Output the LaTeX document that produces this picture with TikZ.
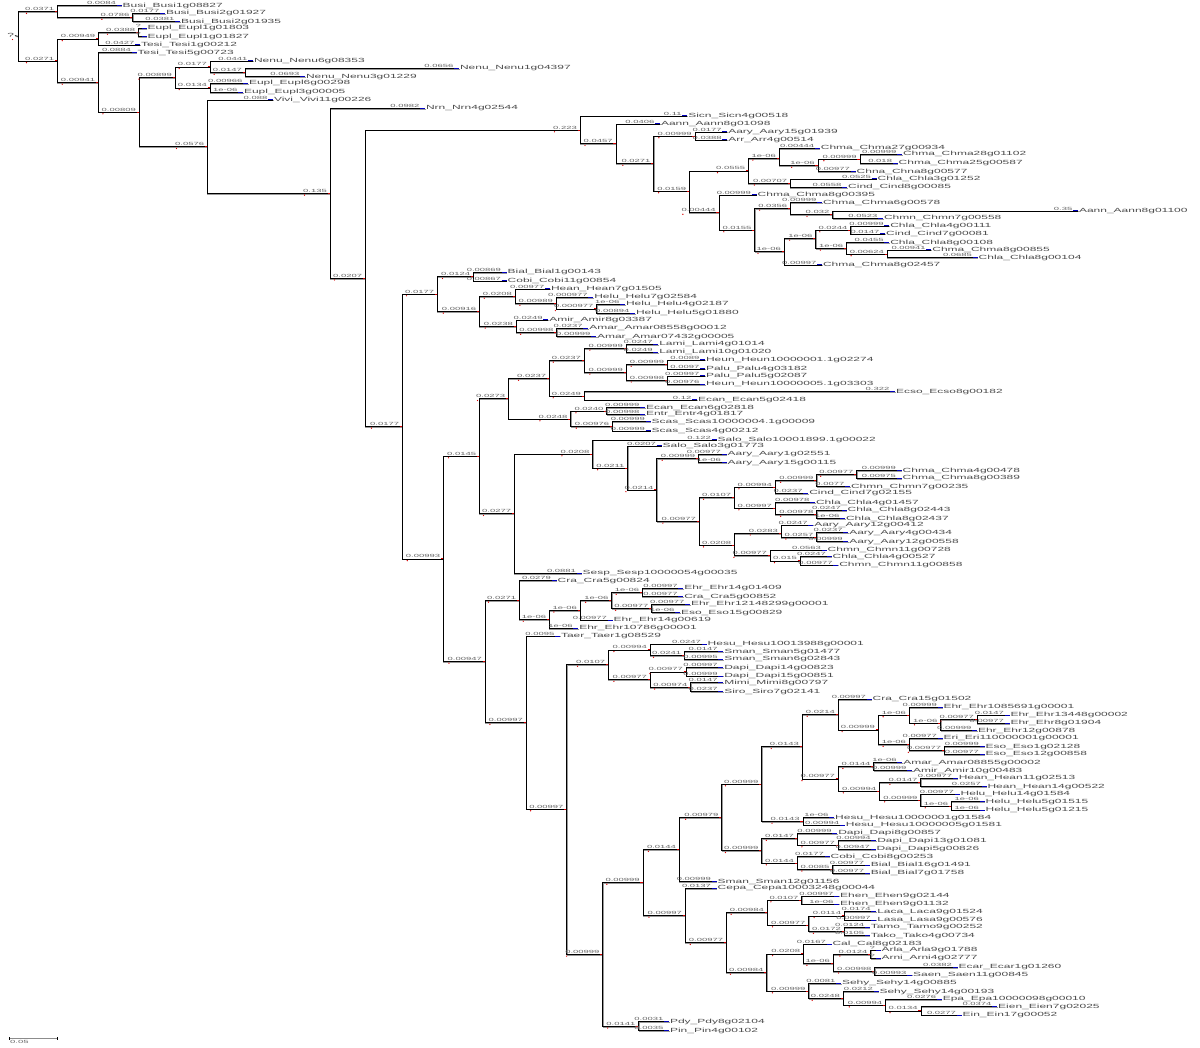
\documentclass[tikz,border=0pt]{standalone}
\usepackage{fontspec}
\newfontfamily\leaffont[FakeStretch=2]{Liberation Sans}
\newfontfamily\labfont[FakeStretch=2.1]{Liberation Sans}
\tikzset{
  br/.style={line width=0.55pt, draw=black, preaction={draw=black!40, line width=0.9pt, transform canvas={shift={(0.5pt,-0.8pt)}}}},
  leaf/.style={anchor=west, inner xsep=0.8pt, inner ysep=0pt, font={\leaffont\fontsize{6}{6}\selectfont}, text=black!70},
  blab/.style={anchor=south east, inner sep=0pt, font={\labfont\fontsize{4.5}{4.5}\selectfont}, text=black!60},
  tipc/.style={draw=blue!75!black, line width=1pt},
  rmark/.style={draw=red!85!black, line width=0.8pt}
}
\newcommand\IN[5]{%
  \coordinate (#2) at (#3,#4);
  \draw[br] (#1) |- (#2);
  \node[blab, xshift=-3pt, yshift=0.6pt] (#2-l) at (#2) {#5};
  \fill[red!85!black] ([shift={(1.5pt,-2.4pt)}]#2-l.south west) circle (0.7pt);
  \draw[rmark] ([xshift=-2.5pt]#2) -- (#2);
}
\newcommand\LF[6]{%
  \node[leaf] (#2) at (#3,#4) {#6};
  \draw[br] (#1) |- (#2.west);
  \draw[tipc] ([xshift=-5pt]#2.west) -- (#2.west);
  \node[blab, xshift=-5.5pt, yshift=0.6pt] at (#2.west) {#5};
}
\begin{document}
\begin{tikzpicture}[x=1pt, y=-1pt]
\fill[white] (0,0) rectangle (1200,1048);
\useasboundingbox (0,0) rectangle (1200,1048);
% root
\coordinate (root) at (18.3,36.3);
\node[leaf, anchor=east] (rootlab) at (15,35.5) {?};
\draw[br] (rootlab.east) -- (root);
\fill[red!85!black] (12.5,39.5) circle (0.7pt);
\IN{root}{n1}{57.3}{11.6}{0.0371}
 \LF{n1}{L1}{121.7}{5.7}{0.0084}{Busi\_Busi1g08827}
 \IN{n1}{n2}{132.7}{17.5}{0.0786}
  \LF{n2}{L2}{165}{13.3}{0.0177}{Busi\_Busi2g01927}
  \LF{n2}{L3}{180}{21.7}{0.0381}{Busi\_Busi2g01935}
\IN{root}{n3}{57.3}{60.9}{0.0271}
 \IN{n3}{n4}{98.3}{38.8}{0.00949}
  \IN{n4}{n5}{138.3}{32.5}{0.0388}
   \LF{n5}{L4}{146.7}{28.3}{?}{Eupl\_Eupl1g01803}
   \LF{n5}{L5}{146.7}{36.7}{?}{Eupl\_Eupl1g01827}
  \LF{n4}{L6}{140}{45}{0.0427}{Tesi\_Tesi1g00212}
 \IN{n3}{n6}{98.3}{82.4}{0.00941}
  \LF{n6}{L7}{136.7}{52.7}{0.0884}{Tesi\_Tesi5g00723}
  \IN{n6}{n7}{139}{112}{0.00809}
   \IN{n7}{n8}{175}{77.3}{0.00899}
    \IN{n8}{n9}{210}{66.8}{0.0177}
     \LF{n9}{L8}{253}{61}{0.0441}{Nenu\_Nenu6g08353}
     \IN{n9}{n10}{245}{72.5}{0.0147}
      \LF{n10}{L9}{459}{68.3}{0.0656}{Nenu\_Nenu1g04397}
      \LF{n10}{L10}{305}{76.7}{0.0693}{Nenu\_Nenu3g01229}
    \IN{n8}{n11}{210}{87.8}{0.0134}
     \LF{n11}{L11}{248}{83.3}{0.00966}{Eupl\_Eupl6g00298}
     \LF{n11}{L12}{243}{92.3}{1e-06}{Eupl\_Eupl3g00005}
   \IN{n7}{n12}{207.3}{146.7}{0.0576}
    \LF{n12}{L13}{273}{100}{0.088}{Vivi\_Vivi11g00226}
    \IN{n12}{n13}{330}{193.3}{0.135}
     \LF{n13}{L14}{425}{108.3}{0.0982}{Nrn\_Nrn4g02544}
     \IN{n13}{n14}{365.3}{278.2}{0.0207}
      \IN{n14}{A}{580}{130}{0.223}
       \LF{A}{L15}{687.3}{116}{0.11}{Sicn\_Sicn4g00518}
       \IN{A}{B}{615.8}{143.7}{0.0457}
        \LF{B}{L16}{660}{124}{0.0406}{Aann\_Aann8g01098}
        \IN{B}{C}{653.6}{163.5}{0.0271}
         \IN{C}{D1}{694.9}{136}{0.00999}
          \LF{D1}{L17}{727.3}{132}{0.0177}{Aary\_Aary15g01939}
          \LF{D1}{L18}{727.3}{140}{0.0388}{Arr\_Arr4g00514}
         \IN{C}{D}{689.4}{191}{0.0159}
          \IN{D}{E}{748.3}{170.8}{0.0555}
           \IN{E}{F}{779}{158.3}{1e-06}
            \LF{F}{L19}{819.9}{148.3}{0.00444}{Chma\_Chma27g00934}
            \IN{F}{G}{817.8}{165.5}{1e-06}
             \IN{G}{H}{859.9}{159}{0.00999}
              \LF{H}{L20}{902}{154.3}{0.00999}{Chma\_Chma28g01102}
              \LF{H}{L21}{897.7}{163.3}{0.018}{Chma\_Chma25g00587}
             \LF{G}{L22}{855.7}{171.7}{0.00977}{Chna\_Chna8g00577}
           \IN{E}{I}{790.4}{183.2}{0.00707}
            \LF{I}{L23}{876.7}{179}{0.0525}{Chla\_Chla3g01252}
            \LF{I}{L24}{847.2}{187.3}{0.0558}{Cind\_Cind8g00085}
          \IN{D}{J}{718.9}{212.5}{0.00444}
           \LF{J}{L25}{756.7}{195}{0.00999}{Chma\_Chma8g00395}
           \IN{J}{K}{754.6}{230}{0.0155}
            \IN{K}{L}{790.4}{208.3}{0.0356}
             \LF{L}{L26}{822}{202.7}{0.00999}{Chma\_Chma6g00578}
             \IN{L}{M}{832.5}{214.7}{0.032}
              \LF{M}{L27}{1078}{211}{0.35}{Aann\_Aann8g01100}
              \LF{M}{L28}{883}{218.3}{0.0523}{Chmn\_Chmn7g00558}
            \IN{K}{N}{784.1}{251.7}{1e-06}
             \IN{N}{O}{815.7}{238.3}{1e-06}
              \IN{O}{P}{850.6}{230}{0.0244}
               \LF{P}{L29}{889.3}{226}{0.00999}{Chla\_Chla4g00111}
               \LF{P}{L30}{885.1}{234}{0.0147}{Cind\_Cind7g00081}
              \IN{O}{Q}{846.4}{248.3}{1e-06}
               \LF{Q}{L31}{889.3}{242.7}{0.0455}{Chla\_Chla8g00108}
               \IN{Q}{R}{887.2}{254}{0.00624}
                \LF{R}{L32}{931.4}{250}{0.00941}{Chma\_Chma8g00855}
                \LF{R}{L33}{977.7}{257.7}{0.0685}{Chla\_Chla8g00104}
             \LF{N}{L34}{822}{265}{0.00997}{Chma\_Chma8g02457}
      \IN{n14}{n15}{402.3}{426.4}{0.0177}
       \IN{n15}{n16}{437.3}{294}{0.0177}
        \IN{n16}{n17}{473.3}{276.7}{0.0124}
         \LF{n17}{L35}{506.7}{272.3}{0.00869}{Bial\_Bial1g00143}
         \LF{n17}{L36}{506.7}{281}{0.00867}{Cobi\_Cobi11g00854}
        \IN{n16}{n18}{479.3}{311.3}{0.00916}
         \IN{n18}{n19}{515}{296.4}{0.0208}
          \LF{n19}{L37}{550}{289}{0.00977}{Hean\_Hean7g01505}
          \IN{n19}{n20}{556}{303.5}{0.00989}
           \LF{n20}{L38}{593.3}{297.3}{0.000977}{Helu\_Helu7g02584}
           \IN{n20}{n21}{596.7}{308.8}{0.000977}
            \LF{n21}{L39}{625}{304.3}{1e-06}{Helu\_Helu4g02187}
            \LF{n21}{L40}{635}{313.3}{0.00894}{Helu\_Helu5g01880}
         \IN{n18}{n22}{516}{326.3}{0.0238}
          \LF{n22}{L41}{548.3}{320}{0.0249}{Amir\_Amir8g03387}
          \IN{n22}{n23}{556.7}{332.5}{0.00998}
           \LF{n23}{L42}{588.3}{328.3}{0.0237}{Amar\_Amar08558g00012}
           \LF{n23}{L43}{596}{336.7}{0.00999}{Amar\_Amar07432g00005}
       \IN{n15}{n30}{443.3}{558.8}{0.00993}
        \IN{n30}{n31}{479.3}{456}{0.0145}
         \IN{n31}{n32}{508.3}{398.7}{0.0273}
          \IN{n32}{n33}{549.3}{378.5}{0.0237}
           \IN{n33}{n34}{584}{360.3}{0.0237}
            \IN{n34}{n35}{626}{348.3}{0.00999}
             \LF{n35}{L44}{658.3}{344.3}{0.0247}{Lami\_Lami4g01014}
             \LF{n35}{L45}{658.3}{352.3}{0.0249}{Lami\_Lami10g01020}
            \IN{n34}{n36}{626}{372.3}{0.00999}
             \IN{n36}{n37}{667.3}{364.5}{0.00999}
              \LF{n37}{L46}{705}{360}{0.0089}{Heun\_Heun10000001.1g02274}
              \LF{n37}{L47}{705}{369}{0.0097}{Palu\_Palu4g03182}
             \IN{n36}{n38}{667.3}{380.2}{0.00998}
              \LF{n38}{L48}{705}{376}{0.00997}{Palu\_Palu5g02087}
              \LF{n38}{L49}{705}{384.3}{0.00976}{Heun\_Heun10000005.1g03303}
           \IN{n33}{n39}{584}{396}{0.0249}
            \LF{n39}{L50}{895}{391.7}{0.322}{Ecso\_Ecso8g00182}
            \LF{n39}{L51}{697}{400}{0.12}{Ecan\_Ecan5g02418}
          \IN{n32}{n40}{570.7}{419}{0.0248}
           \IN{n40}{n41}{606.7}{411}{0.0240}
            \LF{n41}{L52}{645}{407.7}{0.00999}{Ecan\_Ecan6g02818}
            \LF{n41}{L53}{645}{414.3}{0.00998}{Entr\_Entr4g01817}
           \IN{n40}{n42}{612.3}{426.3}{0.00976}
            \LF{n42}{L54}{650.7}{421.7}{0.00999}{Scas\_Scas10000004.1g00009}
            \LF{n42}{L55}{650.7}{431}{0.00999}{Scas\_Scas4g00212}
         \IN{n31}{n43}{514.3}{513.7}{0.0277}
          \IN{n43}{n44}{592.7}{454}{0.0208}
           \LF{n44}{L56}{716.7}{440}{0.122}{Salo\_Salo10001899.1g00022}
           \IN{n44}{n45}{627.7}{468}{0.0211}
            \LF{n45}{L57}{661.7}{446}{0.0207}{Salo\_Salo3g01773}
            \IN{n45}{n46}{656.7}{489.9}{0.0214}
             \IN{n46}{n47}{698.3}{458.5}{0.00999}
              \LF{n47}{L58}{726.7}{454.3}{0.00977}{Aary\_Aary1g02551}
              \LF{n47}{L59}{726.7}{462.7}{1e-06}{Aary\_Aary15g00115}
             \IN{n46}{n48}{699}{521.3}{0.00977}
              \IN{n48}{n49}{734.3}{497.5}{0.0107}
               \IN{n49}{n50}{775}{487}{0.00994}
                \IN{n50}{n51}{816.7}{480.5}{0.00999}
                 \IN{n51}{n52}{856.7}{474.5}{0.00977}
                  \LF{n52}{L60}{901.7}{470.7}{0.00999}{Chma\_Chma4g00478}
                  \LF{n52}{L61}{901.7}{478.3}{0.00975}{Chma\_Chma8g00389}
                 \LF{n51}{L62}{850}{486.7}{0.0077}{Chmn\_Chmn7g00235}
                \LF{n50}{L63}{808.3}{493.3}{0.0237}{Cind\_Cind7g02155}
               \IN{n49}{n53}{775}{508}{0.00997}
                \LF{n53}{L64}{815}{502.7}{0.00978}{Chla\_Chla4g01457}
                \IN{n53}{n54}{816.7}{514.5}{0.00978}
                 \LF{n54}{L65}{846.7}{510.3}{0.0247}{Chla\_Chla8g02443}
                 \LF{n54}{L66}{845}{518.7}{1e-06}{Chla\_Chla8g02437}
              \IN{n48}{n55}{734.3}{545.1}{0.0208}
               \IN{n55}{n56}{781}{533.2}{0.0283}
                \LF{n56}{L67}{813.3}{525}{0.0247}{Aary\_Aary12g00412}
                \IN{n56}{n57}{816.7}{537.2}{0.0257}
                 \LF{n57}{L68}{848.3}{532.7}{0.0237}{Aary\_Aary4g00434}
                 \LF{n57}{L69}{848.3}{541.7}{0.00999}{Aary\_Aary12g00558}
               \IN{n55}{n58}{770}{555.5}{0.00977}
                \LF{n58}{L70}{826.7}{550}{0.0563}{Chmn\_Chmn11g00728}
                \IN{n58}{n59}{800}{560.8}{0.015}
                 \LF{n59}{L71}{831.7}{556.7}{0.0247}{Chla\_Chla4g00527}
                 \LF{n59}{L72}{838.3}{565}{0.00977}{Chmn\_Chmn11g00858}
          \LF{n43}{L73}{581.7}{573.3}{0.0881}{Sesp\_Sesp10000054g00035}
        \IN{n30}{n60}{485}{661.4}{0.00947}
         \IN{n60}{n61}{519.3}{600.3}{0.0271}
          \LF{n61}{L74}{556.7}{580.7}{0.0279}{Cra\_Cra5g00824}
          \IN{n61}{n62}{549.3}{619.4}{1e-06}
           \IN{n62}{n63}{580}{610.2}{1e-06}
            \IN{n63}{n64}{611.7}{600.5}{1e-06}
             \IN{n64}{n65a}{642.3}{592.5}{1e-06}
              \LF{n65a}{L75}{683.3}{588.3}{0.00997}{Ehr\_Ehr14g01409}
              \LF{n65a}{L76}{683.3}{596.7}{0.00977}{Cra\_Cra5g00852}
             \IN{n64}{n66}{651.7}{608.5}{0.00977}
              \LF{n66}{L77}{690}{604.3}{0.00977}{Ehr\_Ehr12148299g00001}
              \LF{n66}{L78}{680}{612.7}{1e-06}{Eso\_Eso15g00829}
            \LF{n63}{L79}{612.7}{620}{0.00977}{Ehr\_Ehr14g00619}
           \LF{n62}{L80}{578.3}{628.3}{1e-06}{Ehr\_Ehr10786g00001}
         \IN{n60}{n70}{526}{722.5}{0.00997}
          \LF{n70}{L81}{560}{636}{0.0095}{Taer\_Taer1g08529}
          \IN{n70}{n71}{566.7}{809}{0.00997}
           \IN{n71}{n72}{608.3}{664.5}{0.0107}
            \IN{n72}{n73}{650}{649.8}{0.00994}
             \LF{n73}{L82}{706.7}{644}{0.0247}{Hesu\_Hesu10013988g00001}
             \IN{n73}{n74}{684.3}{655.5}{0.0241}
              \LF{n74}{L83}{723.3}{651.7}{0.0147}{Sman\_Sman5g01477}
              \LF{n74}{L84}{723.3}{659.3}{0.00995}{Sman\_Sman6g02843}
            \IN{n72}{n75}{650}{679.5}{0.00977}
             \IN{n75}{n76}{686}{671.8}{0.00977}
              \LF{n76}{L85}{723.3}{667.7}{0.00997}{Dapi\_Dapi14g00823}
              \LF{n76}{L86}{723.3}{676}{0.00999}{Dapi\_Dapi15g00851}
             \IN{n75}{n77}{690.7}{687.2}{0.00974}
              \LF{n77}{L87}{723.3}{682.7}{0.0147}{Mimi\_Mimi8g00797}
              \LF{n77}{L88}{723.3}{691.7}{0.0237}{Siro\_Siro7g02141}
           \IN{n71}{n78}{602.7}{954.3}{0.00999}
            \IN{n78}{n79}{642.9}{882.5}{0.00999}
             \IN{n79}{n80}{679.2}{849.5}{0.0144}
              \IN{n80}{n81}{721.7}{817.4}{0.00979}
               \IN{n81}{n82}{761.5}{784}{0.00999}
                \IN{n82}{n83}{802}{746.7}{0.0143}
                 \IN{n83}{n84}{838}{714.5}{0.0214}
                  \LF{n84}{L89}{871.7}{699.3}{0.00997}{Cra\_Cra15g01502}
                  \IN{n84}{n85}{878.2}{729.8}{0.00999}
                   \IN{n85}{n86}{909.2}{715}{1e-06}
                    \LF{n86}{L90}{942.5}{707.3}{0.00999}{Ehr\_Ehr1085691g00001}
                    \IN{n86}{n87}{940.6}{723}{1e-06}
                     \IN{n87}{n88}{977}{719.2}{0.00977}
                      \LF{n88}{L91}{1009.5}{715}{0.0147}{Ehr\_Ehr13448g00002}
                      \LF{n88}{L92}{1009.5}{723.3}{0.00977}{Ehr\_Ehr8g01904}
                     \LF{n87}{L93}{977}{730.7}{0.00999}{Ehr\_Ehr12g00878}
                   \IN{n85}{n89}{909.2}{744.5}{1e-06}
                    \LF{n89}{L94}{942.5}{738.3}{0.00977}{Eri\_Eri110000001g00001}
                    \IN{n89}{n89b}{944.4}{750.5}{0.00977}
                     \LF{n89b}{L95}{984.6}{746.7}{0.00999}{Eso\_Eso1g02128}
                     \LF{n89b}{L96}{984.6}{754.3}{0.00977}{Eso\_Eso12g00858}
                 \IN{n83}{n90}{838}{778.8}{0.00977}
                  \IN{n90}{n91}{873.6}{766.7}{0.0144}
                   \LF{n91}{L97}{902.3}{762.7}{1e-06}{Amar\_Amar08855g00002}
                   \LF{n91}{L98}{912}{770.7}{0.00999}{Amir\_Amir10g00483}
                  \IN{n90}{n92}{879.4}{791}{0.00994}
                   \IN{n92}{n93}{920.7}{782.5}{0.0147}
                    \LF{n93}{L99}{957.8}{778.3}{0.00977}{Hean\_Hean11g02513}
                    \LF{n93}{L100}{986.5}{786.7}{0.0257}{Hean\_Hean14g00522}
                   \IN{n92}{n94}{920.7}{800}{0.00999}
                    \LF{n94}{L101}{959.7}{794}{0.00977}{Helu\_Helu14g01584}
                    \IN{n94}{n95}{951.3}{806}{1e-06}
                     \LF{n95}{L102}{984.6}{801.7}{1e-06}{Helu\_Helu5g01515}
                     \LF{n95}{L103}{984.6}{810}{1e-06}{Helu\_Helu5g01215}
                \IN{n82}{n96}{802.8}{821.4}{0.0143}
                 \LF{n96}{L105}{834.2}{817.7}{1e-06}{Hesu\_Hesu10000001g01584}
                 \LF{n96}{L106}{844.9}{825}{0.00994}{Hesu\_Hesu10000005g01581}
               \IN{n81}{n97}{761.5}{850.7}{0.00999}
                \IN{n97}{n98}{797.1}{838.5}{0.0147}
                 \LF{n98}{L107}{837.3}{833.3}{0.00999}{Dapi\_Dapi8g00857}
                 \IN{n98}{n99}{838}{845}{0.00977}
                  \LF{n99}{L108}{876.3}{840.7}{0.00994}{Dapi\_Dapi13g01081}
                  \LF{n99}{L109}{875.5}{849.3}{0.00947}{Dapi\_Dapi5g00826}
                \IN{n97}{n100}{797.1}{863}{0.0144}
                 \LF{n100}{L110}{829.6}{856.7}{0.0177}{Cobi\_Cobi8g00253}
                 \IN{n100}{n101}{832.7}{869.2}{0.0085}
                  \LF{n101}{L111}{869.8}{865}{0.00977}{Bial\_Bial16g01491}
                  \LF{n101}{L112}{869.8}{873.3}{0.00977}{Bial\_Bial7g01758}
              \LF{n80}{L113}{716.7}{881.7}{0.00999}{Sman\_Sman12g01156}
             \IN{n79}{n102}{685}{915.4}{0.00997}
              \LF{n102}{L114}{716.7}{888.3}{0.0137}{Cepa\_Cepa10003248g00044}
              \IN{n102}{n103}{726.3}{942.5}{0.00977}
               \IN{n103}{n104}{767.2}{912.5}{0.00984}
                \IN{n104}{n105}{801.7}{900}{0.0107}
                 \LF{n105}{L115}{839.2}{896}{0.00997}{Ehen\_Ehen9g02144}
                 \LF{n105}{L116}{839.2}{904}{1e-06}{Ehen\_Ehen9g01132}
                \IN{n104}{n106}{808.6}{925}{0.00977}
                 \IN{n106}{n107}{844.2}{915.8}{0.0114}
                  \LF{n107}{L117}{876.3}{911.7}{0.0174}{Laca\_Laca9g01524}
                  \LF{n107}{L118}{876.3}{920}{0.00997}{Lasa\_Lasa9g00576}
                 \IN{n106}{n108}{844.2}{931.5}{0.0172}
                  \LF{n108}{L119}{869.8}{927.3}{0.0124}{Tamo\_Tamo9g00252}
                  \LF{n108}{L120}{869.8}{935.7}{0.0105}{Tako\_Tako4g00734}
               \IN{n103}{n109}{766.5}{972.4}{0.00984}
                \IN{n109}{n110}{803.4}{953.8}{0.0208}
                 \LF{n110}{L121}{831.5}{944}{0.0167}{Cal\_Cal8g02183}
                 \IN{n110}{n111}{833}{963.5}{1e-06}
                  \IN{n111}{n112}{870.6}{954.2}{0.0124}
                   \LF{n112}{L122}{880.5}{950}{?}{Arla\_Arla9g01788}
                   \LF{n112}{L123}{880.5}{958.3}{?}{Arni\_Arni4g02777}
                  \IN{n111}{n113}{874.6}{971.2}{0.00998}
                   \LF{n113}{L124}{957.6}{967.3}{0.0382}{Ecar\_Ecar1g01260}
                   \LF{n113}{L125}{912.1}{975}{0.00993}{Saen\_Saen11g00845}
                \IN{n109}{n114}{808.5}{991}{0.00999}
                 \LF{n114}{L126}{841}{983.3}{0.0081}{Sehy\_Sehy14g00885}
                 \IN{n114}{n115}{843}{998.5}{0.0248}
                  \LF{n115}{L127}{878.5}{991.7}{0.0212}{Sehy\_Sehy14g00193}
                  \IN{n115}{n116}{885.3}{1005}{0.00994}
                   \LF{n116}{L128}{941.8}{999.3}{0.0276}{Epa\_Epa10000098g00010}
                   \IN{n116}{n117}{920.8}{1010.8}{0.0134}
                    \LF{n117}{L129}{997.2}{1006.7}{0.0374}{Eien\_Eien7g02025}
                    \LF{n117}{L130}{961.6}{1015}{0.0277}{Ein\_Ein17g00052}
            \IN{n78}{n118}{638.5}{1026.2}{0.0141}
             \LF{n118}{L131}{669}{1021.7}{0.0031}{Pdy\_Pdy8g02104}
             \LF{n118}{L132}{669}{1030.7}{0.0035}{Pin\_Pin4g00102}
% scale bar
\coordinate (sbA) at (9.3,1038.3);
\coordinate (sbB) at (57.7,1038.3);
\draw[line width=0.8pt, black!45] (sbA) -- (sbB);
\draw[line width=0.7pt] ([yshift=1.3pt]sbA) -- ([yshift=-1.3pt]sbA);
\draw[line width=0.7pt] ([yshift=1.3pt]sbB) -- ([yshift=-1.3pt]sbB);
\node[blab, anchor=north west] (sblab) at (10,1039.8) {0.05};
\end{tikzpicture}
\end{document}
